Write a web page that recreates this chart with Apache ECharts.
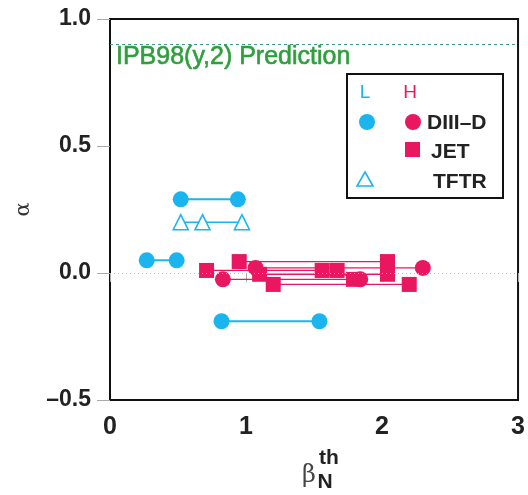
<!DOCTYPE html>
<html>
<head>
<meta charset="utf-8">
<script src="https://cdn.jsdelivr.net/npm/echarts@6/dist/echarts.min.js"></script>
<style>
  html, body { margin: 0; padding: 0; background: #fff; }
  #chart { width: 528px; height: 495px; }
</style>
</head>
<body>
<div id="chart"></div>
<script>
// Confinement scaling exponent alpha versus normalised thermal beta
const xTicks = [0, 1, 2, 3];
const yTicks = [-0.5, 0.0, 0.5, 1.0];
const predictionAlpha = 0.9;

// L-mode DIII-D scans: each pair is [beta, alpha] at both ends of a scan
const lDiiidPairs = [
  [[0.52, 0.29], [0.94, 0.29]],
  [[0.27, 0.05], [0.49, 0.05]],
  [[0.82, -0.19], [1.54, -0.19]]
];
// L-mode TFTR scan
const lTftrScan = [[0.52, 0.20], [0.68, 0.20], [0.97, 0.20]];

// H-mode DIII-D scans
const hDiiidPairs = [
  [[0.83, -0.025], [1.84, -0.025]],
  [[1.07, 0.02], [2.30, 0.02]]
];
// H-mode JET scans
const hJetPairs = [
  [[0.71, 0.01], [1.56, 0.01]],
  [[0.95, 0.045], [2.04, 0.045]],
  [[1.10, -0.005], [2.04, -0.005]],
  [[1.20, -0.045], [2.20, -0.045]],
  [[1.67, 0.01], [1.79, -0.025]]
];

const cyan = '#1ab5ee';
const pink = '#e8175f';
const green = '#2f9e3c';
const font = 'Liberation Sans, Arial, Helvetica, sans-serif';

const series = [];
function addScan(points, color, symbol, size, hollow, width) {
  series.push({
    type: 'line',
    data: points,
    symbol: symbol,
    symbolSize: size,
    showSymbol: true,
    lineStyle: { color: color, width: width },
    itemStyle: hollow
      ? { color: '#fff', borderColor: color, borderWidth: 1.6 }
      : { color: color, borderWidth: 0 },
    z: 3,
    silent: true,
    animation: false
  });
}
lDiiidPairs.forEach(p => addScan(p, cyan, 'circle', 16, false, 2));
addScan(lTftrScan, cyan, 'triangle', 15, true, 1.5);
hJetPairs.forEach(p => addScan(p, pink, 'rect', 15, false, 1.3));
hDiiidPairs.forEach(p => addScan(p, pink, 'circle', 16, false, 1.3));

// Reference lines: zero level and the IPB98(y,2) prediction
series.push({
  type: 'line',
  data: [],
  markLine: {
    silent: true,
    symbol: 'none',
    animation: false,
    label: { show: false },
    data: [
      { yAxis: 0, lineStyle: { color: '#bbb', type: [1, 3], width: 1 } },
      { yAxis: predictionAlpha, lineStyle: { color: '#3c9b86', type: [3, 3], width: 1 } }
    ]
  }
});

const chart = echarts.init(document.getElementById('chart'), null, { renderer: 'canvas' });
chart.setOption({
  animation: false,
  grid: {
    left: 110, right: 4, top: 19, bottom: 95,
    show: true, borderColor: '#111', borderWidth: 2, backgroundColor: '#fff'
  },
  xAxis: {
    type: 'value', min: xTicks[0], max: xTicks[xTicks.length - 1], interval: 1,
    axisLine: { show: false },
    axisTick: { show: true, length: 9, lineStyle: { color: '#aaa' } },
    splitLine: { show: false },
    axisLabel: { margin: 15, color: '#222', fontFamily: font, fontWeight: 'bold', fontSize: 25 }
  },
  yAxis: {
    type: 'value', min: yTicks[0], max: yTicks[yTicks.length - 1], interval: 0.5,
    name: 'α', nameLocation: 'middle', nameGap: 76, nameRotate: 90,
    nameTextStyle: { fontFamily: 'DejaVu Serif, serif', fontSize: 21, color: '#333' },
    axisLine: { show: false },
    axisTick: { show: true, length: 13, lineStyle: { color: '#aaa' } },
    splitLine: { show: false },
    axisLabel: {
      margin: 19, color: '#222', fontFamily: font, fontWeight: 'bold', fontSize: 23,
      formatter: v => v.toFixed(1).replace('-', '–')
    }
  },
  series: series,
  graphic: [
    { type: 'text', x: 116, y: 57, z: 10,
      style: { text: 'IPB98(y,2) Prediction', fill: green, stroke: green, lineWidth: 0.6,
               font: '25px ' + font, verticalAlign: 'middle' } },
    // legend box
    { type: 'rect', shape: { x: 347, y: 74, width: 156, height: 124 }, z: 10,
      style: { fill: '#fff', stroke: '#111', lineWidth: 2 } },
    { type: 'text', x: 365, y: 93, z: 11,
      style: { text: 'L', fill: cyan, font: '19px ' + font, align: 'center', verticalAlign: 'middle' } },
    { type: 'text', x: 410, y: 93, z: 11,
      style: { text: 'H', fill: pink, font: '19px ' + font, align: 'center', verticalAlign: 'middle' } },
    { type: 'circle', shape: { cx: 367, cy: 122, r: 8 }, z: 11, style: { fill: cyan } },
    { type: 'circle', shape: { cx: 413, cy: 122, r: 8 }, z: 11, style: { fill: pink } },
    { type: 'rect', shape: { x: 405, y: 142, width: 15, height: 15 }, z: 11, style: { fill: pink } },
    { type: 'polygon', shape: { points: [[365, 172], [373, 186], [357, 186]] }, z: 11,
      style: { fill: '#fff', stroke: cyan, lineWidth: 1.6 } },
    { type: 'text', x: 427, y: 123, z: 11,
      style: { text: 'DIII–D', fill: '#222', font: 'bold 21px ' + font, verticalAlign: 'middle' } },
    { type: 'text', x: 431, y: 152, z: 11,
      style: { text: 'JET', fill: '#222', font: 'bold 21px ' + font, verticalAlign: 'middle' } },
    { type: 'text', x: 433, y: 182, z: 11,
      style: { text: 'TFTR', fill: '#222', font: 'bold 21px ' + font, verticalAlign: 'middle' } },
    // x-axis title: beta_N^th
    { type: 'text', x: 309, y: 476, z: 11,
      style: { text: 'β', fill: '#444', font: '24px DejaVu Serif, serif', align: 'center', verticalAlign: 'middle' } },
    { type: 'text', x: 325, y: 482, z: 11,
      style: { text: 'N', fill: '#222', font: 'bold 21px ' + font, align: 'center', verticalAlign: 'middle' } },
    { type: 'text', x: 329, y: 458, z: 11,
      style: { text: 'th', fill: '#222', font: 'bold 21px ' + font, align: 'center', verticalAlign: 'middle' } }
  ]
});
</script>
</body>
</html>
